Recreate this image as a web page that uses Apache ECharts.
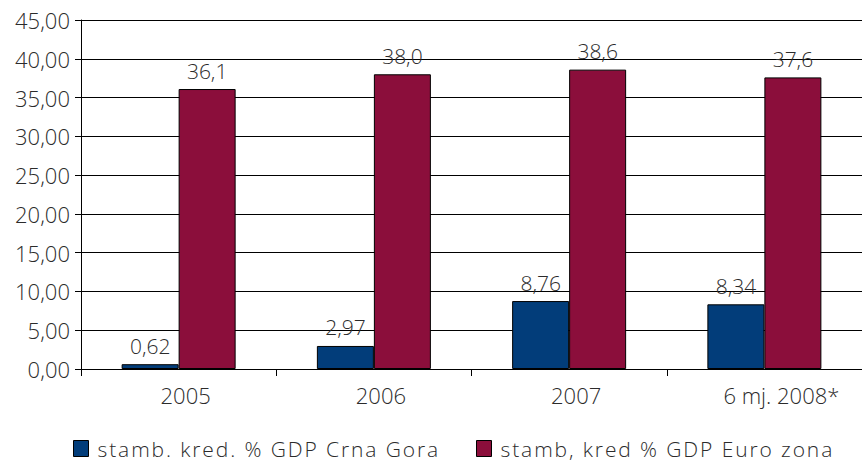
<!DOCTYPE html>
<html>
<head>
<meta charset="utf-8">
<script src="https://cdn.jsdelivr.net/npm/echarts@6/dist/echarts.min.js"></script>
<style>
  html, body { margin: 0; padding: 0; background: #fff; }
  #chart { width: 862px; height: 463px; }
</style>
</head>
<body>
<div id="chart"></div>
<script>
// Housing loans as % of GDP
const categories = ['2005', '2006', '2007', '6 mj. 2008*'];
const crnaGora = [0.62, 2.97, 8.76, 8.34];
const euroZona = [36.1, 38.0, 38.6, 37.6];
const seriesNames = ['stamb. kred. % GDP Crna Gora', 'stamb, kred % GDP Euro zona'];
const seriesColors = ['#023d7a', '#8b0e3b'];

const FONT = '"Open Sans", "DejaVu Sans", sans-serif';
const TEXT = '#2b2b2b';
const WEIGHT = 300;
const comma = (v, d) => v.toFixed(d).replace('.', ',');

const legendTemplate = (name, left) => ({
  top: 438,
  left: left,
  padding: 0,
  itemWidth: 15,
  itemHeight: 16,
  icon: 'rect',
  selectedMode: false,
  textStyle: { fontFamily: FONT, fontWeight: WEIGHT, fontSize: 21, color: TEXT, padding: [0, 0, 0, 4] },
  data: [{ name: name, itemStyle: { borderColor: '#000', borderWidth: 1 } }]
});

// the half-year label is set a little wider than the year labels
const categoryData = categories.map((c, i) =>
  i === categories.length - 1 ? { value: c, textStyle: { padding: [0, 0, 0, 34] } } : c);

const chart = echarts.init(document.getElementById('chart'), null, { renderer: 'svg' });
chart.setOption({
  animation: false,
  backgroundColor: '#fff',
  textStyle: { fontFamily: FONT },
  grid: { left: 81, right: 0, top: 20, bottom: 94, containLabel: false },
  legend: [legendTemplate(seriesNames[0], 73), legendTemplate(seriesNames[1], 476)],
  xAxis: {
    type: 'category',
    data: categoryData,
    boundaryGap: true,
    axisLine: { lineStyle: { color: '#000', width: 1 } },
    axisTick: { show: true, length: 7, interval: 0, alignWithLabel: false, lineStyle: { color: '#000' } },
    axisLabel: { fontFamily: FONT, fontWeight: WEIGHT, fontSize: 22, color: TEXT, margin: 15, interval: 0,
                 padding: [0, 0, 0, 14] }
  },
  yAxis: {
    type: 'value',
    min: 0,
    max: 45,
    interval: 5,
    axisLine: { show: true, lineStyle: { color: '#000', width: 1 } },
    axisTick: { show: true, length: 6, lineStyle: { color: '#000' } },
    splitLine: { show: true, lineStyle: { color: '#000', width: 1 } },
    axisLabel: { fontFamily: FONT, fontWeight: WEIGHT, fontSize: 22, color: TEXT, margin: 11,
                 padding: [6, 0, 0, 0], formatter: v => comma(v, 2) }
  },
  series: [
    {
      name: seriesNames[0],
      type: 'bar',
      data: crnaGora,
      barWidth: 57,
      barGap: '0%',
      itemStyle: { color: seriesColors[0], borderColor: '#000', borderWidth: 1 },
      label: { show: true, position: 'top', distance: 8, fontFamily: FONT, fontWeight: WEIGHT, fontSize: 21,
               color: TEXT, formatter: p => comma(p.value, 2) }
    },
    {
      name: seriesNames[1],
      type: 'bar',
      data: euroZona,
      barWidth: 57,
      barGap: '0%',
      itemStyle: { color: seriesColors[1], borderColor: '#000', borderWidth: 1 },
      label: { show: true, position: 'top', distance: 8, fontFamily: FONT, fontWeight: WEIGHT, fontSize: 21,
               color: TEXT, formatter: p => comma(p.value, 1) }
    }
  ]
});

// legend captions are set with a little extra tracking
document.querySelectorAll('#chart svg text').forEach(t => {
  if (seriesNames.includes(t.textContent)) t.style.letterSpacing = '1.9px';
});
</script>
</body>
</html>
